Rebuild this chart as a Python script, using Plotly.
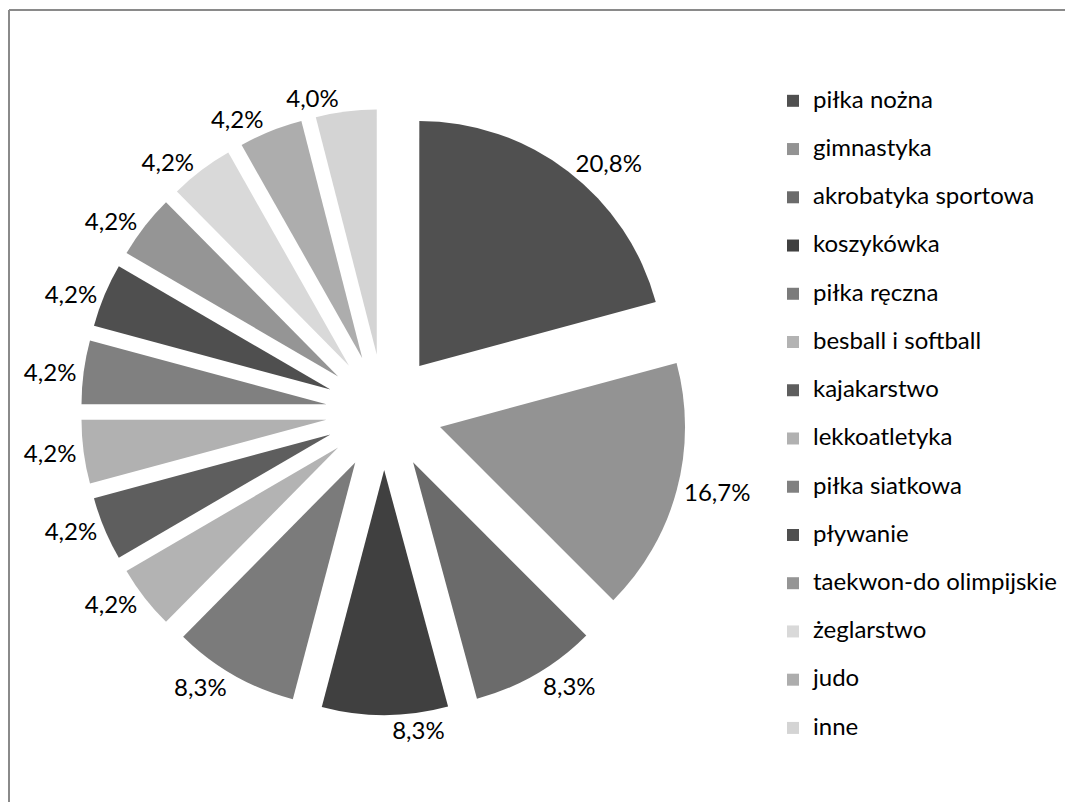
import plotly.graph_objects as go

labels = ["piłka nożna", "gimnastyka", "akrobatyka sportowa", "koszykówka",
          "piłka ręczna", "besball i softball", "kajakarstwo", "lekkoatletyka",
          "piłka siatkowa", "pływanie", "taekwon-do olimpijskie", "żeglarstwo",
          "judo", "inne"]
values = [20.8, 16.7, 8.3, 8.3, 8.3, 4.2, 4.2, 4.2, 4.2, 4.2, 4.2, 4.2, 4.2, 4.0]
colors = ["#505050", "#939393", "#6b6b6b", "#404040", "#7b7b7b", "#b3b3b3",
          "#5e5e5e", "#b1b1b1", "#808080", "#4f4f4f", "#959595", "#d9d9d9",
          "#adadad", "#d4d4d4"]

# the page body has an 8px margin, so the figure is sized to fit the window
W, H = 1057, 794
FONT = "Lato"
TXT = 24
LEG_TXT = 24
PULL = 0.237
DOMAIN = dict(x=[73 / W, 679 / W], y=[1 - 707 / H, 1 - 101 / H])

pct_text = [f"{v:.1f}%".replace(".", ",") for v in values]
legend_labels = [f"<span style='font-size:{LEG_TXT}px'>{l}</span><br> " for l in labels]

# the last label is drawn by a transparent overlay pie so that plotly's
# label-collision logic does not move it (the reference has no leader line)
solo = {len(values) - 1}
text_main = [t if i not in solo else "" for i, t in enumerate(pct_text)]
text_solo = [t if i in solo else "" for i, t in enumerate(pct_text)]

common = dict(
    labels=legend_labels, values=values, textinfo="text",
    textposition="outside", sort=False, direction="clockwise", rotation=0,
    pull=[PULL] * len(values), domain=DOMAIN, hoverinfo="skip",
    outsidetextfont=dict(family=FONT, size=TXT, color="#000000"),
)

fig = go.Figure()
fig.add_trace(go.Pie(text=text_main,
                     marker=dict(colors=colors, line=dict(width=0)),
                     **common))
fig.add_trace(go.Pie(text=text_solo, showlegend=False,
                     marker=dict(colors=["rgba(0,0,0,0)"] * len(values),
                                 line=dict(width=0)),
                     **common))

fig.update_layout(
    width=W, height=H,
    margin=dict(l=0, r=0, t=0, b=0, autoexpand=False),
    paper_bgcolor="white",
    plot_bgcolor="white",
    font=dict(family=FONT, color="#000000"),
    showlegend=True,
    legend=dict(
        x=765 / W, xanchor="left",
        y=1 - 75 / H, yanchor="top",
        font=dict(family=FONT, size=17.4, color="#000000"),
        valign="top",
        bgcolor="rgba(0,0,0,0)",
        itemclick=False, itemdoubleclick=False,
    ),
    shapes=[
        dict(type="line", xref="paper", yref="paper",
             x0=1 / W, x1=1 / W, y0=0, y1=1 - 2 / H,
             line=dict(color="#8a8a8a", width=2)),
        dict(type="line", xref="paper", yref="paper",
             x0=1 / W, x1=1.0, y0=1 - 2 / H, y1=1 - 2 / H,
             line=dict(color="#8a8a8a", width=2)),
    ],
)

fig.write_html("out.html")
